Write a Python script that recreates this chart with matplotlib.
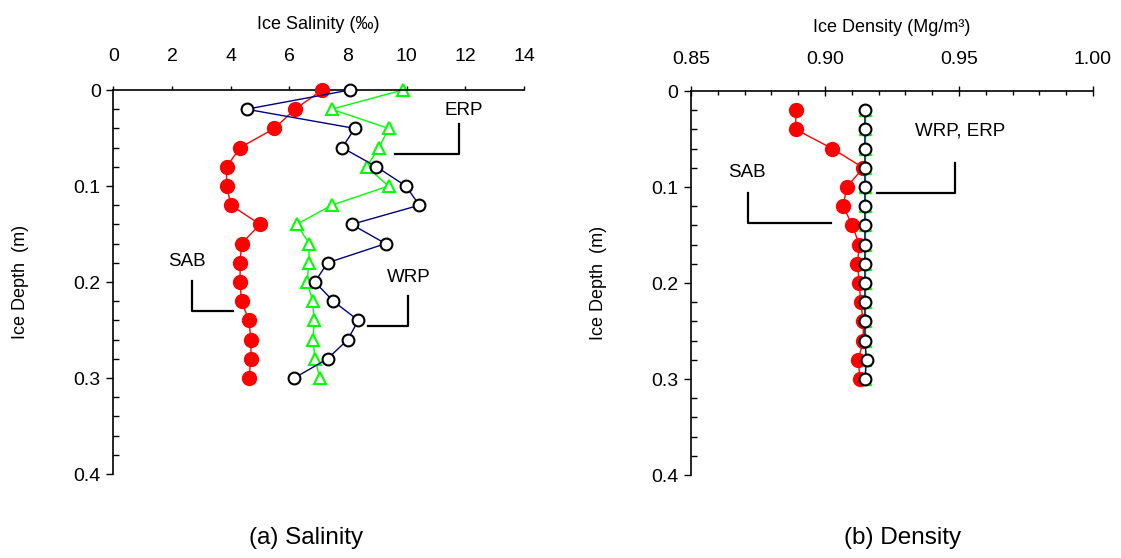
import numpy as np
import matplotlib
matplotlib.use('Agg')
import matplotlib.pyplot as plt
from matplotlib.ticker import MultipleLocator

plt.rcParams['font.family'] = ['Liberation Sans', 'DejaVu Sans']

# Salinity profiles (per mil) vs depth (m)
depth_sal = [0.00, 0.02, 0.04, 0.06, 0.08, 0.10, 0.12, 0.14,
             0.16, 0.18, 0.20, 0.22, 0.24, 0.26, 0.28, 0.30]
sal_sab = [7.12, 6.19, 5.49, 4.32, 3.86, 3.86, 4.01, 5.00,
           4.37, 4.32, 4.32, 4.37, 4.62, 4.69, 4.69, 4.62]
sal_wrp = [8.06, 4.54, 8.23, 7.80, 8.97, 9.97, 10.43, 8.12,
           9.28, 7.30, 6.87, 7.50, 8.35, 7.99, 7.30, 6.17]
sal_erp = [9.86, 7.44, 9.38, 9.06, 8.63, 9.38, 7.44, 6.25,
           6.68, 6.66, 6.61, 6.79, 6.85, 6.81, 6.87, 7.04]

# Density profiles (Mg/m3) vs depth (m)
depth_den = [0.02, 0.04, 0.06, 0.08, 0.10, 0.12, 0.14, 0.16,
             0.18, 0.20, 0.22, 0.24, 0.26, 0.28, 0.30]
den_sab = [0.8891, 0.8891, 0.9027, 0.9143, 0.9081, 0.9068, 0.9102, 0.9128,
           0.9121, 0.9128, 0.9133, 0.9143, 0.9143, 0.9124, 0.9131]
den_wrp = [0.9149, 0.9149, 0.9149, 0.9149, 0.9149, 0.9149, 0.9149, 0.9149,
           0.9149, 0.9149, 0.9149, 0.9149, 0.9149, 0.9155, 0.9149]
den_erp = [0.9150, 0.9150, 0.9150, 0.9150, 0.9150, 0.9150, 0.9150, 0.9150,
           0.9150, 0.9150, 0.9150, 0.9150, 0.9150, 0.9150, 0.9150]

depth_ticks = [0, 0.1, 0.2, 0.3, 0.4]
depth_labels = ['0', '0.1', '0.2', '0.3', '0.4']
sal_ticks = [0, 2, 4, 6, 8, 10, 12, 14]
den_ticks = [0.85, 0.90, 0.95, 1.00]
den_labels = ['0.85', '0.90', '0.95', '1.00']

RED = '#FF0000'
NAVY = '#000080'
GREEN = '#00FF00'


def style_axis(ax):
    ax.spines['right'].set_visible(False)
    ax.spines['bottom'].set_visible(False)
    ax.spines['top'].set_linewidth(1.2)
    ax.spines['left'].set_linewidth(1.2)
    ax.xaxis.tick_top()
    ax.set_ylim(0.4, 0)
    ax.set_yticks(depth_ticks)
    ax.set_yticklabels(depth_labels)
    ax.yaxis.set_minor_locator(MultipleLocator(0.02))
    ax.tick_params(axis='y', which='major', direction='out', length=5, width=1, pad=4, labelsize=14)
    ax.tick_params(axis='y', which='minor', direction='in', length=4, width=1)
    ax.tick_params(axis='x', which='major', direction='out', length=3, width=1, pad=15, labelsize=14)
    ax.tick_params(axis='x', which='minor', direction='in', length=3, width=1)
    ax.xaxis.set_label_position('top')
    ax.set_facecolor('none')


def leader(ax, xs, ys):
    ax.plot(xs, ys, color='black', lw=1.6, clip_on=False, zorder=1)


fig = plt.figure(figsize=(11.21, 5.58), dpi=100)

# (a) Salinity
ax1 = fig.add_axes([0.1011, 0.1505, 0.3664, 0.6882])
ax1.plot(sal_erp, depth_sal, color=GREEN, lw=1, marker='^', ms=9, mfc='white',
         mec=GREEN, mew=1.5, zorder=2, clip_on=False)
ax1.plot(sal_sab, depth_sal, color=RED, lw=1, marker='o', ms=10, mfc=RED,
         mec=RED, zorder=3, clip_on=False)
ax1.plot(sal_wrp, depth_sal, color=NAVY, lw=1, marker='o', ms=8.5, mfc='white',
         mec='black', mew=1.5, zorder=4, clip_on=False)
ax1.set_xlim(0, 14)
ax1.set_xticks(sal_ticks)
style_axis(ax1)
ax1.set_xlabel('Ice Salinity (‰)', fontsize=13, labelpad=14)
ax1.text(-0.226, 0.5, 'Ice Depth  (m)', transform=ax1.transAxes, rotation=90,
         ha='center', va='center', fontsize=13)

ax1.text(11.95, 0.021, 'ERP', ha='center', va='center', fontsize=13.5)
leader(ax1, [11.77, 11.77, 9.6], [0.0357, 0.067, 0.067])
ax1.text(10.08, 0.195, 'WRP', ha='center', va='center', fontsize=13.5)
leader(ax1, [10.05, 10.05, 8.69], [0.2146, 0.2458, 0.2458])
ax1.text(2.51, 0.179, 'SAB', ha='center', va='center', fontsize=13.5)
leader(ax1, [2.67, 2.67, 4.09], [0.1986, 0.2299, 0.2299])

# (b) Density
ax2 = fig.add_axes([0.6164, 0.1487, 0.3586, 0.6882])
ax2.plot(den_erp, depth_den, color=GREEN, lw=1, marker='^', ms=9, mfc=GREEN,
         mec=GREEN, zorder=2, clip_on=False)
ax2.plot(den_sab, depth_den, color=RED, lw=1, marker='o', ms=10, mfc=RED,
         mec=RED, zorder=3, clip_on=False)
ax2.plot(den_wrp, depth_den, color=NAVY, lw=1, marker='o', ms=8.5, mfc='white',
         mec='black', mew=1.5, zorder=4, clip_on=False)
ax2.set_xlim(0.85, 1.00)
ax2.set_xticks(den_ticks)
ax2.set_xticklabels(den_labels)
ax2.xaxis.set_minor_locator(MultipleLocator(0.01))
style_axis(ax2)
ax2.tick_params(axis='x', which='major', direction='inout', length=7, pad=13)
ax2.set_xlabel('Ice Density (Mg/m³)', fontsize=13, labelpad=14)
ax2.text(-0.231, 0.5, 'Ice Depth  (m)', transform=ax2.transAxes, rotation=90,
         ha='center', va='center', fontsize=13)

ax2.text(0.9504, 0.0417, 'WRP, ERP', ha='center', va='center', fontsize=13.5)
leader(ax2, [0.9485, 0.9485, 0.9193], [0.0753, 0.1066, 0.1066])
ax2.text(0.8708, 0.0854, 'SAB', ha='center', va='center', fontsize=13.5)
leader(ax2, [0.8714, 0.8714, 0.9022], [0.1066, 0.1372, 0.1372])

fig.text(306 / 1121, 1 - 538 / 558, '(a) Salinity', ha='center', va='center', fontsize=17.5)
fig.text(903 / 1121, 1 - 538 / 558, '(b) Density', ha='center', va='center', fontsize=17.5)

fig.savefig('out.png', dpi=100)
